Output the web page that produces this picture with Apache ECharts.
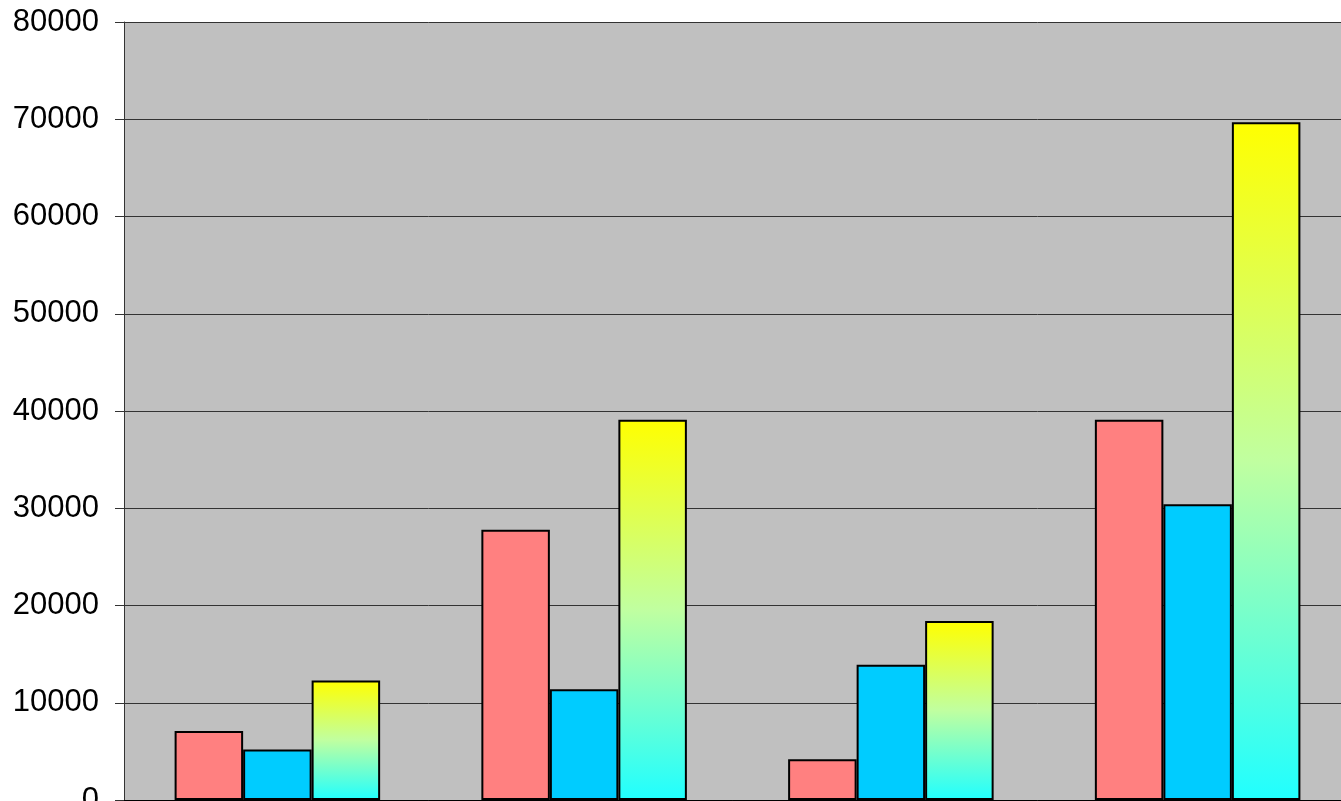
<!DOCTYPE html>
<html><head><meta charset="utf-8">
<script src="https://cdn.jsdelivr.net/npm/echarts@6/dist/echarts.min.js"></script>
<style>html,body{margin:0;padding:0;background:#fff}#c{width:1341px;height:801px}</style>
</head><body><div id="c"></div>
<script>
const categories = ['A', 'B', 'C', 'D'];
const series1 = [7100, 27800, 4200, 39100];
const series2 = [5200, 11400, 13900, 30400];
const series3 = [12300, 39100, 18400, 69700];
const yTicks = [0, 10000, 20000, 30000, 40000, 50000, 60000, 70000, 80000];

const chart = echarts.init(document.getElementById('c'));
const border = { borderColor: '#000', borderWidth: 2 };
chart.setOption({
  animation: false,
  backgroundColor: '#fff',
  grid: { left: 124, top: 22, right: -10, bottom: 1, show: true, backgroundColor: '#c0c0c0', borderWidth: 0, outerBoundsMode: 'none', containLabel: false },
  xAxis: {
    type: 'category', data: categories,
    axisLine: { show: true, lineStyle: { color: '#000', width: 1 } },
    axisTick: { show: false }, axisLabel: { show: false }
  },
  yAxis: {
    type: 'value', min: yTicks[0], max: yTicks[yTicks.length - 1], interval: 10000,
    axisLine: { show: true, lineStyle: { color: '#333', width: 1 } },
    axisTick: { show: true, length: 9, lineStyle: { color: '#333' } },
    axisLabel: { fontFamily: 'Liberation Sans, Arial', fontSize: 31, color: '#000', margin: 25, formatter: v => String(v) },
    splitLine: { show: true, lineStyle: { color: '#333', width: 1 } }
  },
  series: [
    { type: 'bar', data: series1, barGap: '0%', barCategoryGap: '33%', itemStyle: Object.assign({ color: '#ff8080' }, border) },
    { type: 'bar', data: series2, itemStyle: Object.assign({ color: '#00ccff' }, border) },
    { type: 'bar', data: series3, itemStyle: Object.assign({
        color: new echarts.graphic.LinearGradient(0, 0, 0, 1, [
          { offset: 0, color: '#ffff00' },
          { offset: 0.5, color: '#c0ffa0' },
          { offset: 1, color: '#20ffff' }
        ])
      }, border) }
  ]
});
</script></body></html>
